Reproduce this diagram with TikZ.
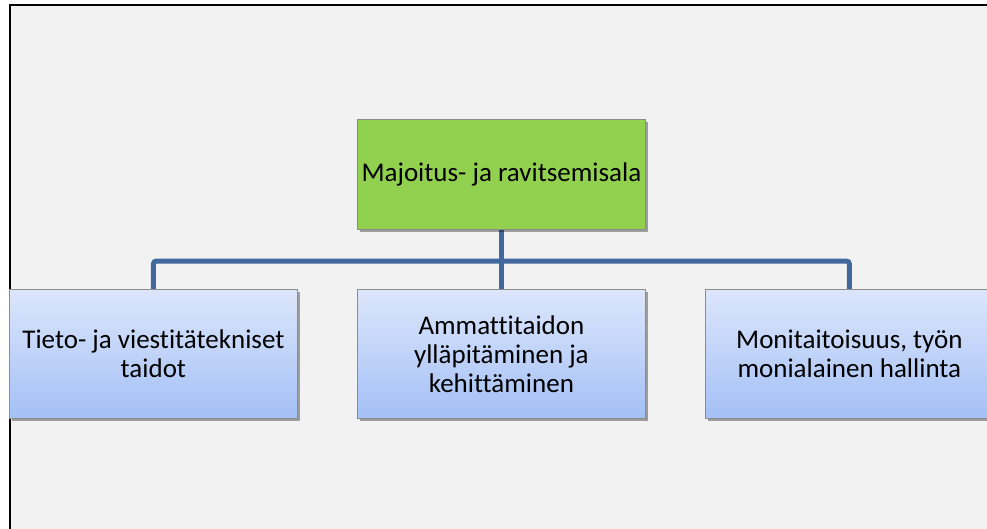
\documentclass[tikz,border=0pt]{standalone}
\usepackage{fontspec}
\setmainfont[Ligatures=NoCommon]{Carlito}
\usetikzlibrary{shadows}
\pgfdeclarelayer{page}
\pgfdeclarelayer{links}
\pgfsetlayers{page,links,main}
\definecolor{pagegray}{RGB}{242,242,242}
\definecolor{linkblue}{RGB}{65,105,158}
\definecolor{topgreen}{RGB}{146,208,80}
\definecolor{boxtop}{RGB}{220,230,251}
\definecolor{boxbottom}{RGB}{164,192,246}
\definecolor{boxedge}{RGB}{140,140,140}
\tikzset{
  unit/.style={draw=boxedge, line width=0.8pt, anchor=north west, inner sep=0pt,
    align=center, font=\fontsize{27}{29}\selectfont,
    drop shadow={shadow xshift=3pt, shadow yshift=-3pt, opacity=0.35, fill=black}},
  headbox/.style={unit, fill=topgreen},
  skillbox/.style={unit, top color=boxtop, bottom color=boxbottom},
  link/.style={draw=linkblue, line width=5pt, rounded corners=3pt},
  frame/.style={draw=black, line width=2pt}
}
\begin{document}
\begin{tikzpicture}[x=1pt, y=-1pt]
  \useasboundingbox (0,0) rectangle (987,528);
  \clip (0,0) rectangle (987,528);

  % boxes
  \node[headbox, minimum width=288pt, minimum height=110pt] (head) at (357,119)
    {Majoitus- ja ravitsemisala};
  \node[skillbox, minimum width=288pt, minimum height=129pt] (left) at (9,289)
    {Tieto- ja viestitätekniset\\taidot};
  \node[skillbox, minimum width=288pt, minimum height=129pt] (mid) at (357,289)
    {Ammattitaidon\\ylläpitäminen ja\\kehittäminen};
  \node[skillbox, minimum width=288pt, minimum height=129pt] (right) at (705,289)
    {Monitaitoisuus, työn\\monialainen hallinta};

  % connectors
  \coordinate (bus) at (501,261);
  \begin{pgfonlayer}{links}
    \draw[link] (head.south) -- (mid.north);
    \draw[link] (left.north) -- (left.north |- bus) -| (right.north);
  \end{pgfonlayer}

  % page area and its frame
  \begin{pgfonlayer}{page}
    \fill[pagegray] (10,5) rectangle (990,530);
    \draw[frame] (9,5) -- (990,5);
    \draw[frame] (10,5) -- (10,530);
  \end{pgfonlayer}
\end{tikzpicture}
\end{document}
